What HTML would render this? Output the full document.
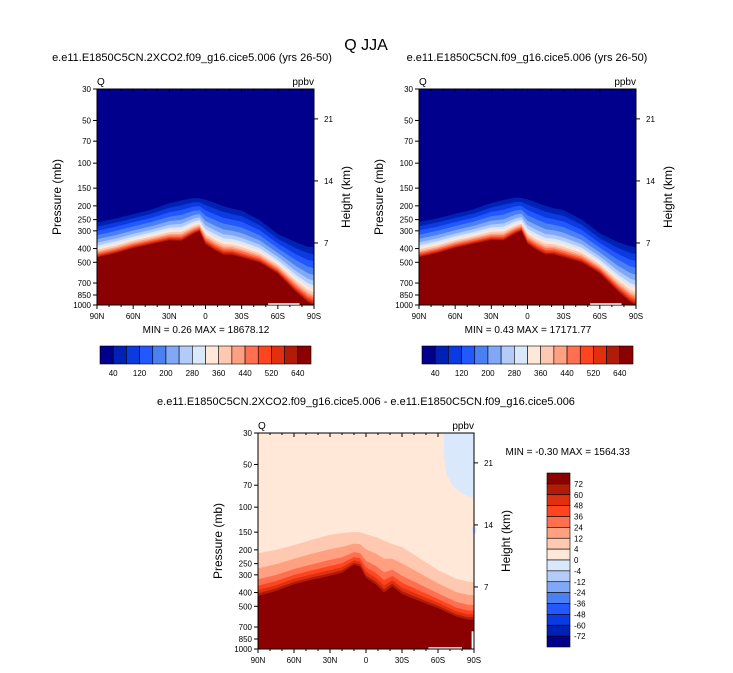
<!DOCTYPE html>
<html><head><meta charset="utf-8"><style>
body{margin:0;background:#fff;}
svg{display:block;font-family:"Liberation Sans",sans-serif;}
</style></head><body>
<svg id="fig" width="733" height="673" viewBox="0 0 733 673">
<text x="366" y="50" font-size="16" text-anchor="middle">Q JJA</text>
</svg>
<script>
// ---- data ----
const lats = [90,75,60,45,30,20,10,5,0,-8,-15,-22,-30,-45,-60,-75,-85,-90];
const ctlOuter = [260,245,228,212,191,182,175,176,180,190,200,208,215,250,313,360,385,390];
const ctlInner = [460,430,395,370,348,350,313,300,370,410,440,440,460,500,597,800,950,1000];
const co2Outer = [262,246,229,213,192,183,176,177,181,191,201,209,216,252,316,362,388,392];
const co2Inner = [462,432,397,372,350,352,315,302,372,412,442,442,462,502,600,805,955,1000];
const diffOuter = [211,200,185,170,157,152,150,150,155,162,172,182,191,230,278,320,335,338];
const diffInner = [423,390,350,325,305,290,255,262,315,350,400,360,410,460,515,590,620,620];
const negLats = [-65,-65,-67,-72,-80,-86,-90,-90];
const negP = [30,45,58,70,80,84,85,30];
const topLevelLabels = ["40","120","200","280","360","440","520","640"];
const diffLevelLabels = ["72","60","48","36","24","12","4","0","-4","-12","-24","-36","-48","-60","-72"];
const pTicks = [30,50,70,100,150,200,250,300,400,500,700,850,1000];
const kmTicks = [7,14,21];
const latTicks = [90,60,30,0,-30,-60,-90];
const latNames = ["90N","60N","30N","0","30S","60S","90S"];

const topColors = ["#00008c","#0022b4","#0a3ae0","#2458ff","#4a80f2","#80a8f6","#b2cbf8","#d9e8fb","#ffe8d8","#ffc8b0","#ffa080","#ff7050","#ff4520","#e03010","#b01c08","#8b0000"];
const topFr = [0,.12,.24,.36,.48,.58,.66,.72,.78,.83,.87,.91,.94,.97,1.0];
const diffColors = ["#ffc8b0","#ffa080","#ff7050","#ff4520","#e03010","#b01c08","#8b0000"];
const diffFr = [0,.35,.61,.76,.86,.94,1];
const diffBarColors = ["#8b0000","#b01c08","#e03010","#ff4520","#ff7050","#ffa080","#ffc8b0","#ffe8d8","#d9e8fb","#b2cbf8","#80a8f6","#4a80f2","#2458ff","#0a3ae0","#0022b4","#00008c"];

const NS="http://www.w3.org/2000/svg";
const svg=document.getElementById('fig');
function el(tag,attrs,parent){const e=document.createElementNS(NS,tag);for(const k in attrs)e.setAttribute(k,attrs[k]);(parent||svg).appendChild(e);return e;}
function txt(x,y,s,size,anchor,name,parent,extra){const t=el('text',Object.assign({x:x,y:y,'font-size':size,'text-anchor':anchor||'start'},extra||{}),parent);t.textContent=s;


return t;}

let clipId=0;
function panel(x0,y0,w,h,bg,outer,inner,colors,fr,subtitle,subX,name){
  const g=el('g',{});
  
  
  const L=Math.log(1000/30);
  const py=p=>y0+h*Math.log(p/30)/L;
  const lx=l=>x0+w*(90-l)/180;
  const cid='c'+(clipId++);
  const cp=el('clipPath',{id:cid},g);el('rect',{x:x0,y:y0,width:w,height:h},cp);
  const cg=el('g',{'clip-path':'url(#'+cid+')'},g);
  const bgr=el('rect',{x:x0,y:y0,width:w,height:h,fill:bg},cg);
  
  
  for(let k=0;k<fr.length;k++){
    let pts=[];
    for(let i=0;i<lats.length;i++){
      const yo=py(outer[i]),yi=py(inner[i]);
      pts.push(lx(lats[i]).toFixed(1)+','+(yo+(yi-yo)*fr[k]).toFixed(1));
    }
    pts.push((x0+w)+','+(y0+h+2));pts.push(x0+','+(y0+h+2));
    const pg=el('polygon',{points:pts.join(' '),fill:colors[k]},cg);
    
    
  }
  const frame=el('rect',{x:x0,y:y0,width:w,height:h,fill:'none',stroke:'#000','stroke-width':1},g);
  
  
  pTicks.forEach(p=>{const y=py(p);el('line',{x1:x0-4,x2:x0,y1:y,y2:y,stroke:'#000'},g);
    txt(x0-6,y+3,String(p),8,'end','pressure-tick-label',g);});
  kmTicks.forEach(z=>{const p=1000*Math.exp(-z/6.95);const y=py(p);el('line',{x1:x0+w,x2:x0+w+4,y1:y,y2:y,stroke:'#000'},g);
    txt(x0+w+10,y+3,String(z),8,'start','height-tick-label',g);});
  latTicks.forEach((l,i)=>{const x=lx(l);el('line',{x1:x,x2:x,y1:y0+h,y2:y0+h+4,stroke:'#000'},g);
    el('line',{x1:x,x2:x,y1:y0,y2:y0+4,stroke:'#000'},g);
    txt(x,y0+h+14,latNames[i],8,'middle','latitude-tick-label',g);});
  for(let l=80;l>-90;l-=10){if(l%30===0)continue;const x=lx(l);
    el('line',{x1:x,x2:x,y1:y0+h,y2:y0+h+2,stroke:'#000'},g);el('line',{x1:x,x2:x,y1:y0,y2:y0+2,stroke:'#000'},g);}
  txt(x0,y0-4,'Q',10,'start','variable-label',g);
  txt(x0+w,y0-4,'ppbv',10,'end','units-label',g);
  txt(subX,y0-28,subtitle,11,'middle','panel-title',g);
  txt(0,0,'Pressure (mb)',12,'middle','y-axis-title',g,{transform:'translate('+(x0-36)+','+(y0+h/2)+') rotate(-90)'});
  txt(0,0,'Height (km)',12,'middle','right-axis-title',g,{transform:'translate('+(x0+w+36)+','+(y0+h/2)+') rotate(-90)'});
  return {py,lx,g};
}

function hbar(x0,y0,w,h,name){
  const g=el('g',{});
  
  
  const bw=w/16;
  topColors.forEach((c,i)=>{const r=el('rect',{x:x0+i*bw,y:y0,width:bw,height:h,fill:c,stroke:'#000','stroke-width':0.6},g);
    
    });
  topLevelLabels.forEach((s,i)=>txt(x0+(2*i+1)*bw,y0+h+12,s,8,'middle','colorbar-label',g));
}

const A=panel(97,89,217,216,topColors[0],co2Outer,co2Inner,topColors.slice(1),topFr,'e.e11.E1850C5CN.2XCO2.f09_g16.cice5.006 (yrs 26-50)',192,'panel-2xco2');
el('line',{x1:A.lx(-52),x2:A.lx(-78),y1:304,y2:304,stroke:'#fff','stroke-width':1.5},A.g);
txt(206,333,'MIN =   0.26  MAX = 18678.12',10,'middle','minmax-2xco2',null,{'xml:space':'preserve'});
hbar(100,346,211,18,'colorbar-top-left');

const B=panel(419,89,217,216,topColors[0],ctlOuter,ctlInner,topColors.slice(1),topFr,'e.e11.E1850C5CN.f09_g16.cice5.006 (yrs 26-50)',527,'panel-control');
el('line',{x1:B.lx(-52),x2:B.lx(-78),y1:304,y2:304,stroke:'#fff','stroke-width':1.5},B.g);
txt(528,333,'MIN =   0.43  MAX = 17171.77',10,'middle','minmax-control',null,{'xml:space':'preserve'});
hbar(422,346,211,18,'colorbar-top-right');

const C=panel(258,433,216,216,'#ffe8d8',diffOuter,diffInner,diffColors,diffFr,'e.e11.E1850C5CN.2XCO2.f09_g16.cice5.006 - e.e11.E1850C5CN.f09_g16.cice5.006',366,'panel-difference');
{
  const pts=negLats.map((l,i)=>C.lx(l).toFixed(1)+','+C.py(negP[i]).toFixed(1)).join(' ');
  const pg=el('polygon',{points:pts,fill:'#d9e8fb'});
  
  
  const e2=el('ellipse',{cx:C.lx(-90),cy:C.py(145),rx:2.5,ry:4,fill:'#d9e8fb'});
  
  
  el('line',{x1:C.lx(-52),x2:C.lx(-80),y1:648,y2:648,stroke:'#fff','stroke-width':1.5});
  el('rect',{x:C.lx(-88),y:C.py(750),width:C.lx(-90)-C.lx(-88),height:649-C.py(750),fill:'#fff'});
  el('rect',{x:258,y:433,width:216,height:216,fill:'none',stroke:'#000'});
}
txt(630,455,'MIN =  -0.30  MAX = 1564.33',10,'end','minmax-difference',null,{'xml:space':'preserve'});
{
  const g=el('g',{});
  
  
  const x0=547,y0=473,w=23,h=174,bh=h/16;
  diffBarColors.forEach((c,i)=>{const r=el('rect',{x:x0,y:y0+i*bh,width:w,height:bh,fill:c,stroke:'#000','stroke-width':0.6},g);
    
    });
  diffLevelLabels.forEach((s,i)=>txt(x0+w+4,y0+(i+1)*bh+3,s,8,'start','colorbar-label',g));
}
</script>
</body></html>
